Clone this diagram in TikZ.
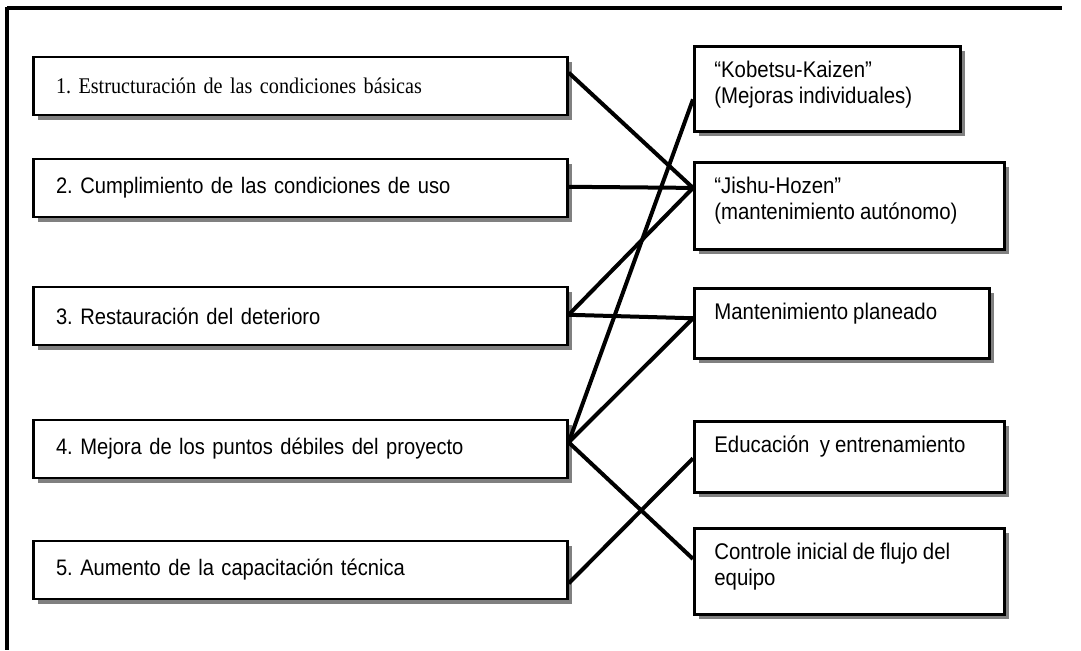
\documentclass[tikz,border=0pt]{standalone}
\usepackage{fontspec}
\setmainfont[FakeStretch=0.9, WordSpace=0.9]{Liberation Sans}
\newfontfamily\romanpart[FakeStretch=0.9, WordSpace=0.9]{Liberation Serif}
\usetikzlibrary{calc,shadows}
\frenchspacing

\tikzset{
  boxshadow/.style={drop shadow={shadow xshift=3.75pt, shadow yshift=-3.75pt, fill=black!50, opacity=1}},
  stepbox/.style={draw, line width=2pt, fill=white, boxshadow, anchor=west,
    minimum height=43.5pt, inner xsep=17pt, text width=366.5pt, align=left,
    font=\fontsize{16.8}{19.5}\selectfont},
  pillarbox/.style={draw, line width=2pt, fill=white, boxshadow, anchor=north west,
    inner xsep=15pt, inner ysep=11pt, font=\fontsize{17}{19.5}\selectfont},
  link/.style={line width=3pt}
}

\begin{document}
\begin{tikzpicture}[x=0.75pt, y=-0.75pt]

    % Page (1081 x 650 px)
    \path[fill=white, use as bounding box] (0,0) rectangle (1081,650);

    % Outer frame, only its top and left sides fall on the page
    \draw[line width=2.5pt] (7,8) -- (1062,8);
    \draw[line width=2.5pt] (7,6.5) -- (7,650);

    % Left column: the five steps
    \node[stepbox] (l1) at (32,86) {\romanpart 1. Estructuración de las condiciones básicas};
    \foreach \y/\txt [count=\i from 2] in {
        188/2. Cumplimiento de las condiciones de uso,
        316/3. Restauración del deterioro,
        449/4. Mejora de los puntos débiles del proyecto,
        570/5. Aumento de la capacitación técnica} {
        \node[stepbox] (l\i) at (32,\y) {\txt};
    }

    % Right column: the pillars (text at the top of each box)
    \node[pillarbox] (r1) at (693,45)
        {\parbox[c][41.75pt][t]{169.5pt}{“Kobetsu-Kaizen”\\(Mejoras individuales)}};
    \node[pillarbox] (r2) at (693,161)
        {\parbox[c][43.25pt][t]{202.5pt}{“Jishu-Hozen”\\(mantenimiento autónomo)}};
    \node[pillarbox] (r3) at (693,287)
        {\parbox[c][30.5pt][t]{191.25pt}{Mantenimiento planeado}};
    \node[pillarbox] (r4) at (693,420)
        {\parbox[c][31.25pt][t]{202.5pt}{Educación~ y entrenamiento}};
    \node[pillarbox] (r5) at (693,527)
        {\parbox[c][42.5pt][t]{202.5pt}{Controle inicial de flujo del\\equipo}};

    % Links: step / share down its right side -> pillar / share down its left side
    \foreach \a/\fa/\b/\fb in {l1/0.28/r2/0.30, l2/0.48/r2/0.30, l3/0.48/r2/0.30,
        l3/0.48/r3/0.43, l4/0.39/r1/0.62, l4/0.39/r3/0.43, l4/0.39/r5/0.36,
        l5/0.72/r4/0.52} {
        \draw[link] ($(\a.north east)!\fa!(\a.south east)$) -- ($(\b.north west)!\fb!(\b.south west)$);
    }

\end{tikzpicture}
\end{document}
